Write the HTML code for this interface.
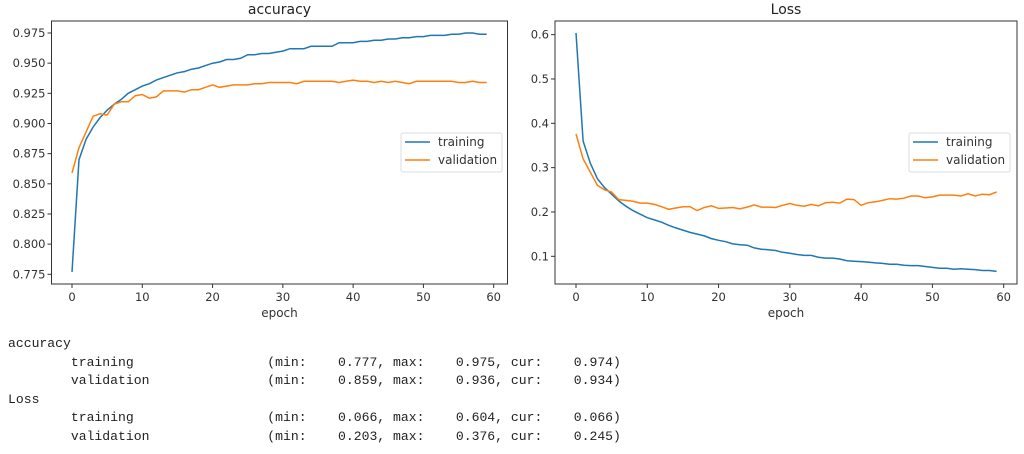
<!DOCTYPE html>
<html><head><meta charset="utf-8"><style>
body{margin:0;background:#fff;width:1024px;height:454px;overflow:hidden}
svg{position:absolute;left:0;top:0}
pre{position:absolute;left:8px;top:335px;margin:0;font:13.1px/18.6px "Liberation Mono","DejaVu Sans Mono",monospace;color:#222}
</style></head><body>
<svg id="s" width="1024" height="320" font-family="DejaVu Sans, Liberation Sans, sans-serif"></svg>
<pre>accuracy
        training                 (min:    0.777, max:    0.975, cur:    0.974)
        validation               (min:    0.859, max:    0.936, cur:    0.934)
Loss
        training                 (min:    0.066, max:    0.604, cur:    0.066)
        validation               (min:    0.203, max:    0.376, cur:    0.245)</pre>
<script>
const at=[0.777,0.870,0.887,0.897,0.905,0.911,0.916,0.920,0.925,0.928,0.931,0.933,0.936,0.938,0.940,0.942,0.943,0.945,0.946,0.948,0.950,0.951,0.953,0.953,0.954,0.957,0.957,0.958,0.958,0.959,0.960,0.962,0.962,0.962,0.964,0.964,0.964,0.964,0.967,0.967,0.967,0.968,0.968,0.969,0.969,0.970,0.970,0.971,0.971,0.972,0.972,0.973,0.973,0.973,0.974,0.974,0.975,0.975,0.974,0.974];
const av=[0.859,0.880,0.893,0.906,0.908,0.907,0.916,0.918,0.918,0.923,0.924,0.921,0.922,0.927,0.927,0.927,0.926,0.928,0.928,0.930,0.932,0.930,0.931,0.932,0.932,0.932,0.933,0.933,0.934,0.934,0.934,0.934,0.933,0.935,0.935,0.935,0.935,0.935,0.934,0.935,0.936,0.935,0.935,0.934,0.935,0.934,0.935,0.934,0.933,0.935,0.935,0.935,0.935,0.935,0.935,0.934,0.934,0.935,0.934,0.934];
const lt=[0.604,0.36,0.31,0.275,0.255,0.24,0.225,0.213,0.203,0.195,0.187,0.182,0.177,0.170,0.164,0.159,0.154,0.150,0.146,0.140,0.136,0.133,0.128,0.126,0.125,0.119,0.116,0.115,0.113,0.109,0.107,0.104,0.102,0.102,0.098,0.096,0.096,0.094,0.090,0.089,0.088,0.087,0.085,0.084,0.082,0.082,0.080,0.079,0.079,0.077,0.075,0.073,0.073,0.071,0.072,0.071,0.070,0.068,0.068,0.066];
const lv=[0.376,0.32,0.29,0.26,0.25,0.245,0.228,0.226,0.224,0.220,0.220,0.217,0.212,0.206,0.209,0.212,0.212,0.203,0.210,0.214,0.208,0.209,0.210,0.207,0.211,0.216,0.211,0.211,0.210,0.215,0.219,0.215,0.213,0.217,0.214,0.221,0.222,0.220,0.229,0.228,0.215,0.221,0.223,0.226,0.230,0.229,0.231,0.236,0.236,0.232,0.234,0.238,0.238,0.238,0.236,0.241,0.236,0.240,0.239,0.245];
let h='';
function plot(o){
 const X=e=>o.x0+e*o.sx, Y=v=>o.y0-(v-o.v0)*o.sy;
 h+=`<text x="${(o.L+o.R)/2}" y="14" font-size="14" text-anchor="middle" fill="#222">${o.title}</text>`;
 for(const [d,c] of [[o.t,'#1f77b4'],[o.v,'#ff7f0e']])
  h+=`<polyline fill="none" stroke="${c}" stroke-width="1.5" points="${d.map((v,i)=>X(i).toFixed(1)+','+Y(v).toFixed(1)).join(' ')}"/>`;
 h+=`<rect x="${o.L}" y="21" width="${o.R-o.L}" height="263" fill="none" stroke="#333" stroke-width="1"/>`;
 for(let e=0;e<=60;e+=10){const x=X(e);h+=`<line x1="${x}" y1="284" x2="${x}" y2="288" stroke="#333"/><text x="${x}" y="301" font-size="11.5" text-anchor="middle" fill="#333">${e}</text>`}
 for(const t of o.ticks){const y=Y(t);h+=`<line x1="${o.L-4}" y1="${y}" x2="${o.L}" y2="${y}" stroke="#333"/><text x="${o.L-6}" y="${y+4}" font-size="11.5" text-anchor="end" fill="#333">${o.fmt(t)}</text>`}
 h+=`<text x="${(o.L+o.R)/2}" y="317" font-size="12" text-anchor="middle" fill="#333">epoch</text>`;
 const lx=o.lx;
 h+=`<rect x="${lx}" y="133" width="101" height="39" rx="2" fill="#fff" stroke="#ddd"/>
 <line x1="${lx+4}" y1="142" x2="${lx+29}" y2="142" stroke="#1f77b4" stroke-width="1.5"/><text x="${lx+37}" y="146" font-size="12" fill="#333">training</text>
 <line x1="${lx+4}" y1="160" x2="${lx+29}" y2="160" stroke="#ff7f0e" stroke-width="1.5"/><text x="${lx+37}" y="164" font-size="12" fill="#333">validation</text>`;
}
plot({title:'accuracy',L:51.5,R:507.5,x0:72,sx:7.028,y0:274.3,v0:0.775,sy:1206.5,t:at,v:av,ticks:[0.775,0.8,0.825,0.85,0.875,0.9,0.925,0.95,0.975],fmt:t=>t.toFixed(3),lx:401});
plot({title:'Loss',L:555,R:1017,x0:576,sx:7.128,y0:256.3,v0:0.1,sy:443.3,t:lt,v:lv,ticks:[0.1,0.2,0.3,0.4,0.5,0.6],fmt:t=>t.toFixed(1),lx:909});
document.getElementById('s').innerHTML=h;
</script>
</body></html>
